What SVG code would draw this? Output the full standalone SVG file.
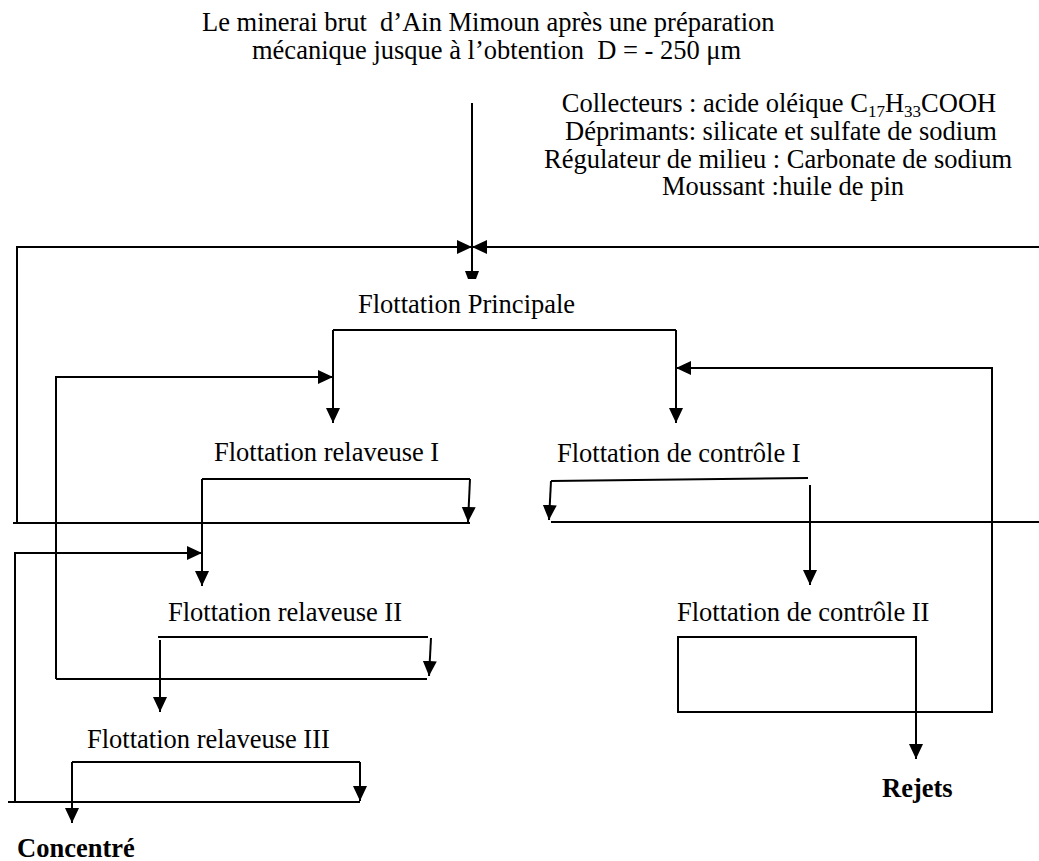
<svg xmlns="http://www.w3.org/2000/svg" width="1039" height="861" viewBox="0 0 1039 861">
  <style>
    text { font-family: "Liberation Serif", "Times New Roman", serif; font-size: 26.5px; fill: #000; }
    .b { font-weight: bold; }
    .ln { fill: none; stroke: #000; stroke-width: 2; }
    .arr { fill: none; stroke: #000; stroke-width: 2; marker-end: url(#ah); }
  </style>
  <defs>
    <marker id="ah" markerUnits="userSpaceOnUse" markerWidth="15" markerHeight="15" viewBox="0 0 15 14" refX="15" refY="7" orient="auto">
      <path d="M0,0 L15,7 L0,14 z" fill="#000"/>
    </marker>
  </defs>
  <rect width="1039" height="861" fill="#fff"/>

  <!-- feed description -->
  <g id="feed">
    <text x="202" y="31" xml:space="preserve">Le minerai brut  d’Ain Mimoun après une préparation</text>
    <text x="252" y="59" xml:space="preserve">mécanique jusque à l’obtention  D = - 250 μm</text>
  </g>

  <!-- reagents -->
  <g id="reagents" text-anchor="middle">
    <text x="779" y="112">Collecteurs : acide oléique C<tspan dy="5" font-size="17">17</tspan><tspan dy="-5">H</tspan><tspan dy="5" font-size="17">33</tspan><tspan dy="-5">COOH</tspan></text>
    <text x="781" y="140">Déprimants: silicate et sulfate de sodium</text>
    <text x="778" y="168">Régulateur de milieu : Carbonate de sodium</text>
    <text x="783" y="195">Moussant :huile de pin</text>
  </g>

  <!-- flotation stages -->
  <g id="principale"><text x="358" y="313">Flottation Principale</text></g>
  <g id="relaveuse1"><text x="214" y="461">Flottation relaveuse I</text></g>
  <g id="controle1"><text x="557" y="462">Flottation de contrôle I</text></g>
  <g id="relaveuse2"><text x="168" y="621">Flottation relaveuse II</text></g>
  <g id="controle2"><text x="677" y="621">Flottation de contrôle II</text></g>
  <g id="relaveuse3"><text x="87" y="748">Flottation relaveuse III</text></g>
  <g id="concentre"><text class="b" x="17" y="857">Concentré</text></g>
  <g id="rejets"><text class="b" x="882" y="797">Rejets</text></g>

  <g id="connectors">
    <!-- feed line into main flotation -->
    <path class="ln" d="M472,103 V272"/>
    <polygon points="465,271 479,271 476,279 468,279" fill="#000"/>

    <!-- tailings of relaveuse I back to the head -->
    <path class="ln" d="M470,523 H13"/>
    <path class="arr" d="M17,523 V247 H472"/>
    <!-- concentrate of contrôle I back to the head -->
    <path class="ln" d="M551,522 H1039"/>
    <path class="arr" d="M1039,247 H472"/>

    <!-- principale outputs -->
    <path class="ln" d="M333,330 H676"/>
    <path class="arr" d="M333,330 V423"/>
    <path class="arr" d="M676,330 V423"/>

    <!-- tailings of relaveuse II back to relaveuse I feed -->
    <path class="ln" d="M427,679 H56"/>
    <path class="arr" d="M56,679 V377 H333"/>

    <!-- contrôle II: tailings box and return to contrôle I feed -->
    <path class="arr" d="M917,637 H678 V712 H992 V368 H676"/>
    <path class="arr" d="M916,637 V759"/>

    <!-- relaveuse I outputs -->
    <path class="ln" d="M202,479 H470"/>
    <path class="arr" d="M202,479 V586"/>
    <path class="arr" d="M470,479 L468,522"/>

    <!-- tailings of relaveuse III back to relaveuse II feed -->
    <path class="ln" d="M360,802 H8"/>
    <path class="arr" d="M15,802 V553 H202"/>

    <!-- contrôle I outputs -->
    <path class="ln" d="M551,481 L808,478"/>
    <path class="arr" d="M551,481 L549,520"/>
    <path class="arr" d="M810,485 V585"/>

    <!-- relaveuse II outputs -->
    <path class="ln" d="M158,637 H428"/>
    <path class="arr" d="M160,640 V712"/>
    <path class="arr" d="M431,638 L429,676"/>

    <!-- relaveuse III outputs -->
    <path class="ln" d="M72,762 H360"/>
    <path class="arr" d="M72,762 V823"/>
    <path class="arr" d="M360,762 V801"/>
  </g>
</svg>
